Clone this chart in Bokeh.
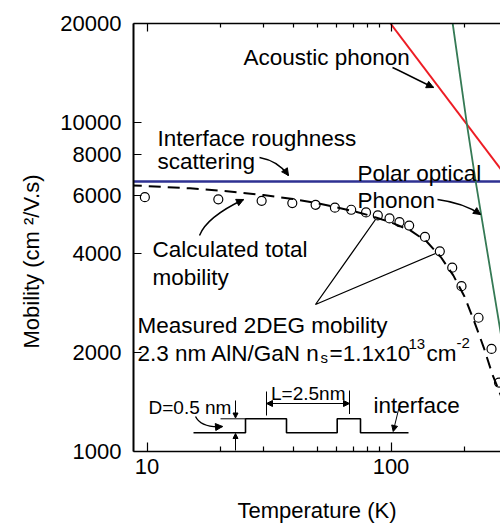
import math
from bokeh.plotting import figure
from bokeh.models import (FixedTicker, BasicTickFormatter, LogAxis, Label, Arrow,
                          NormalHead, Range1d, CustomJSTickFormatter, Title)
from bokeh.embed import file_html
from bokeh.resources import INLINE

# ---------------- data ----------------
T_meas = [9.8, 19.6, 29.5, 39.4, 49.1, 58.9, 68.7, 79.0, 88.3, 98.6, 108.3,
          118.7, 137.8, 158.5, 178.2, 194.5, 228.4, 258.2, 277.1]
mu_meas = [5930, 5840, 5780, 5690, 5620, 5510, 5430, 5330, 5220, 5110, 4980,
           4860, 4490, 4060, 3620, 3180, 2550, 2050, 1620]

T_calc = [8.5, 10, 15, 20, 30, 40, 50, 60, 70, 80, 90, 100, 120, 140, 160,
          180, 200, 220, 240, 260, 280, 290]
mu_calc = [6440, 6410, 6310, 6210, 6020, 5850, 5680, 5520, 5380, 5240, 5100,
           4970, 4700, 4350, 3900, 3430, 2960, 2470, 2070, 1720, 1500, 1400]

T_ir = [8, 300]
mu_ir = [6620, 6620]

T_ac = [99.5, 300]
mu_ac = [20000, 6790]

T_pop = [179, 205, 222, 240, 272, 290]
mu_pop = [20000, 9800, 6670, 4700, 2680, 2010]

x_major = [10, 100]
x_minor = [20, 30, 40, 50, 60, 70, 80, 90, 200]
y_ticks = [1000, 2000, 4000, 6000, 8000, 10000, 20000]

# ---------------- layout helpers (page pixels -> data) ----------------
FONT = "Liberation Sans"
TS = "22.5px"
W, H = 500, 525
def X(px):
    return 10 ** (1 + (px - 146.5) / 244.0)
def Y(py):
    return 10 ** (3 + (451 - py) * math.log10(20) / 428.0)

p = figure(width=W, height=H, x_axis_type="log", y_axis_type="log",
           x_range=Range1d(X(133), X(500)), y_range=Range1d(1000, 20000),
           output_backend="svg", toolbar_location=None,
           min_border_left=133, min_border_right=0, min_border_top=23,
           min_border_bottom=74)
p.grid.visible = False
p.outline_line_color = None
p.background_fill_color = "white"
p.border_fill_color = "white"

xa = p.xaxis[0]
xa.ticker = FixedTicker(ticks=x_major, minor_ticks=x_minor)
xa.formatter = BasicTickFormatter()
xa.major_tick_in = 9
xa.major_tick_out = 0
xa.minor_tick_in = 5
xa.minor_tick_out = 0
xa.axis_line_width = 1.5
xa.major_tick_line_width = 1.2
xa.minor_tick_line_width = 1.2
xa.major_label_text_font = FONT
xa.major_label_text_font_size = "22px"
xa.major_label_text_color = "black"
xa.major_label_standoff = 7
xa.axis_label = "Temperature (K)"
xa.axis_label_text_font = FONT
xa.axis_label_text_font_style = "normal"
xa.axis_label_text_font_size = "22px"
xa.axis_label_text_color = "black"
xa.axis_label_standoff = 21

top = LogAxis(ticker=FixedTicker(ticks=x_major, minor_ticks=x_minor),
              formatter=CustomJSTickFormatter(code="return ''"),
              major_tick_in=8, major_tick_out=0, minor_tick_in=4, minor_tick_out=0,
              major_label_text_font_size="0px", major_label_standoff=0,
              axis_line_width=1.5, major_tick_line_width=1.2, minor_tick_line_width=1.2)
p.add_layout(top, "above")

ya = p.yaxis[0]
ya.ticker = FixedTicker(ticks=y_ticks, minor_ticks=[])
ya.formatter = BasicTickFormatter(use_scientific=False)
ya.major_tick_in = 8
ya.major_tick_out = 0
ya.axis_line_width = 2
ya.major_tick_line_width = 1.2
ya.major_label_text_font = FONT
ya.major_label_text_font_size = "22px"
ya.major_label_text_color = "black"
ya.major_label_standoff = 12

ytitle = Title(text="Mobility (cm \u00b2/V.s)", align="left", offset=103,
               vertical_align="top",
               text_font=FONT, text_font_size="22px", text_font_style="normal",
               text_color="black", standoff=24)
p.add_layout(ytitle, "left")

# ---------------- curves ----------------
p.line(T_ir, mu_ir, line_color="#2e3192", line_width=2.5)
p.line(T_ac, mu_ac, line_color="#ed1c24", line_width=2)
p.line(T_pop, mu_pop, line_color="#357a55", line_width=1.8)
p.line(T_calc, mu_calc, line_color="black", line_width=2, line_dash="12 7")
p.scatter(T_meas, mu_meas, marker="circle", size=9, fill_color=None,
          line_color="black", line_width=1.2)

# ---------------- annotations ----------------
def lab(text, px, py, size=TS, align="left", baseline="alphabetic"):
    p.add_layout(Label(x=X(px), y=Y(py), text=text, text_font=FONT,
                       text_font_size=size, text_color="black",
                       text_align=align, text_baseline=baseline))

lab("Acoustic phonon", 243, 57)
lab("Interface roughness", 157, 138)
lab("scattering", 157, 161)
lab("Polar optical", 357, 173)
lab("Phonon", 357, 200)
lab("Calculated total", 152, 249)
lab("mobility", 152, 276.5)
lab("Measured 2DEG mobility", 137, 325)
lab("2.3 nm AlN/GaN n", 137, 353)
lab("s", 320, 357, size="15px")
lab("=1.1x10", 329, 353)
lab("13", 408, 343, size="15px")
lab("cm", 426, 353)
lab("-2", 456, 342, size="15px")
lab("D=0.5 nm", 148, 406.5, size="19px")
lab("L=2.5nm", 270.5, 393.3, size="19px")
lab("interface", 373, 405)

def seg(pts, width=1.3):
    p.line([X(a) for a, b in pts], [Y(b) for a, b in pts], line_color="black",
           line_width=width)

def arrow(x0, y0, x1, y1, size=6, both=False, width=1.2):
    kw = dict(end=NormalHead(size=size, fill_color="black", line_color="black"),
              x_start=X(x0), y_start=Y(y0), x_end=X(x1), y_end=Y(y1),
              line_color="black", line_width=width)
    if both:
        kw["start"] = NormalHead(size=size, fill_color="black", line_color="black")
    p.add_layout(Arrow(**kw))

def curve(P0, C1, C2, P2):
    p.bezier(x0=[X(P0[0])], y0=[Y(P0[1])], x1=[X(P2[0])], y1=[Y(P2[1])],
             cx0=[X(C1[0])], cy0=[Y(C1[1])], cx1=[X(C2[0])], cy1=[Y(C2[1])],
             line_color="black", line_width=1.4)
    dx, dy = P2[0] - C2[0], P2[1] - C2[1]
    n = math.hypot(dx, dy)
    arrow(P2[0] - 2 * dx / n, P2[1] - 2 * dy / n, P2[0], P2[1], size=7)

curve((392, 67), (403, 72), (418, 80), (433, 87))
curve((259, 157), (270, 159), (281, 165), (288, 175))
curve((437, 199), (452, 201), (467, 205), (480, 214))
curve((199, 235), (204, 222), (222, 209), (243, 199))
curve((195, 416), (199, 424), (208, 427), (222, 426))

# pointer lines for measured mobility
seg([(375, 219), (315, 304), (435, 253)], width=1.3)

# interface schematic
seg([(193, 432.3), (245, 432.3), (245, 418.3), (286, 418.3), (286, 432.3),
     (336.7, 432.3), (336.7, 418.3), (360, 418.3), (360, 432.3), (408, 432.3)],
    width=1.6)
seg([(220, 418.3), (245, 418.3)], width=1)
arrow(235, 400, 235, 417.5, size=5, width=1)
arrow(235, 450, 235, 433, size=5, width=1)
seg([(266, 391), (266, 415)], width=1)
seg([(349, 390), (349, 413.5)], width=1)
arrow(266, 403, 349, 403, size=6, both=True, width=1)
arrow(398.3, 408, 392.7, 431, size=6, width=1)

open("out.html", "w").write(file_html(p, INLINE))
